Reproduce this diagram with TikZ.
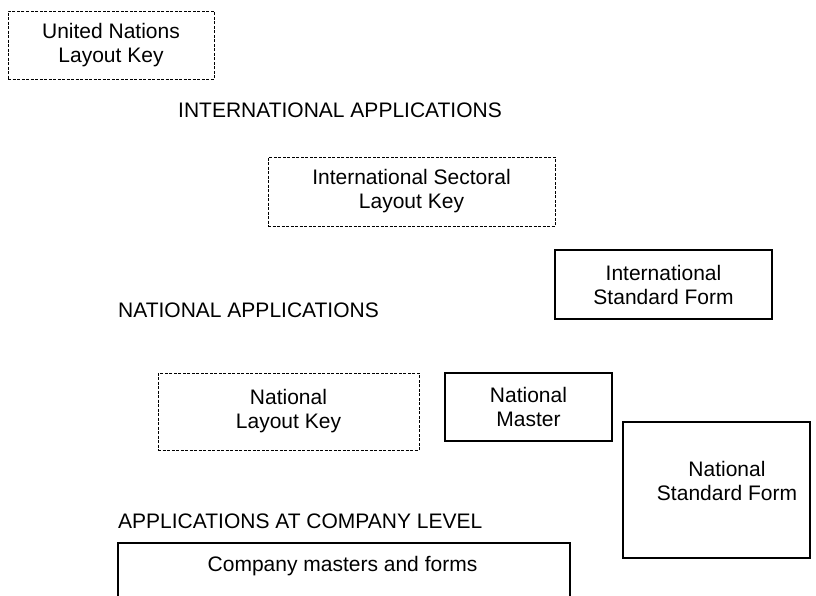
\documentclass[tikz,border=0pt]{standalone}
\usepackage{fontspec}
\setmainfont{Liberation Sans}
\begin{document}
\begin{tikzpicture}[x=1pt,y=-1pt,
  every node/.style={font=\fontsize{21}{24}\selectfont, align=center},
  dashbox/.style={draw, line width=0.9pt, dash pattern=on 3pt off 1.5pt, inner sep=0pt},
  solidbox/.style={draw, line width=2.2pt, inner sep=0pt},
  heading/.style={anchor=west, inner sep=0pt},
  boxtext/.style={inner sep=0pt}]
\useasboundingbox (0,0) rectangle (816,595);
\clip (0,0) rectangle (816,595);
% boxes
\node[dashbox, minimum width=206pt, minimum height=68pt] (un) at (111,45) {United Nations\\Layout Key};
\node[heading] (intl) at (178,110) {INTERNATIONAL APPLICATIONS};
\node[dashbox, minimum width=287pt, minimum height=69pt] (sect) at (411.5,191.5) {International Sectoral\\Layout Key};
\node[solidbox, minimum width=217pt, minimum height=69pt] (isf) at (663.5,284.5) {International\\Standard Form};
\node[heading] (natl) at (118,310) {NATIONAL APPLICATIONS};
\node[dashbox, minimum width=261pt, minimum height=77pt] (nlk) at (288.5,411.5) {National\\Layout Key};
\node[solidbox, minimum width=167pt, minimum height=68pt] (nm) at (528.5,407) {National\\Master};
\node[solidbox, minimum width=187pt, minimum height=136pt] (nsf) at (716.5,490) {};
\node[boxtext] (nsftext) at (727,480.5) {National\\Standard Form};
\node[heading] (comp) at (118,521) {APPLICATIONS AT COMPANY LEVEL};
\node[solidbox, line width=2.6pt, minimum width=452pt, minimum height=70pt] (cbox) at (344,578) {};
\node[boxtext] (ctext) at (342.5,566) {Company masters and forms};
\end{tikzpicture}
\end{document}
